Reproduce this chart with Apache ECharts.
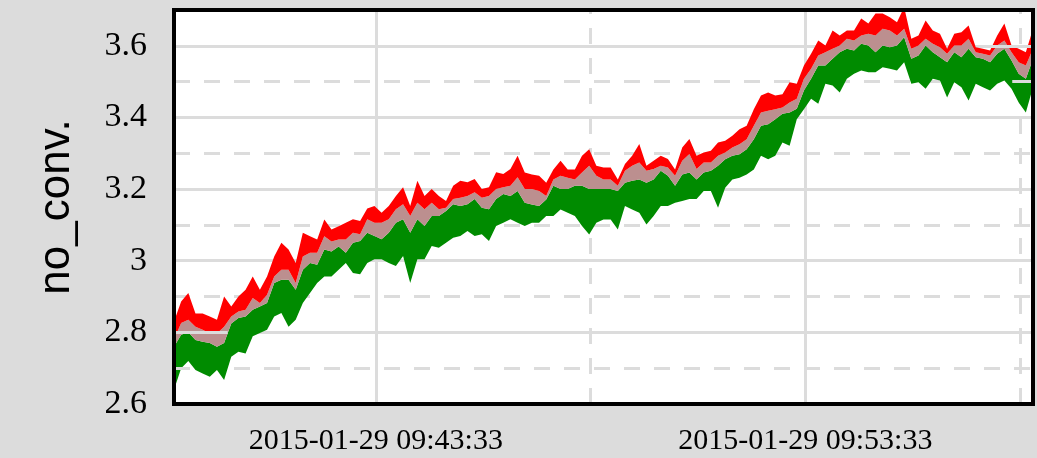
<!DOCTYPE html>
<html>
<head>
<meta charset="utf-8">
<script src="https://cdn.jsdelivr.net/npm/echarts@6/dist/echarts.min.js"></script>
<style>
html,body{margin:0;padding:0;background:#dcdcdc;}
#chart{width:1037px;height:458px;}
</style>
</head>
<body>
<div id="chart"></div>
<script>
// ---- data (seconds relative to 2015-01-29 09:43:33) ----
const tStart = -282;
const tStep = 10;
const minV = [2.64,2.70,2.72,2.695,2.685,2.676,2.695,2.667,2.732,2.746,
2.741,2.789,2.798,2.807,2.844,2.854,2.816,2.835,2.882,2.91,
2.938,2.956,2.956,2.975,2.994,2.966,2.962,2.994,3.004,3.004,
2.994,2.985,3.013,2.938,3.004,3.004,3.041,3.036,3.05,3.064,
3.069,3.083,3.069,3.074,3.055,3.097,3.106,3.116,3.106,3.097,
3.106,3.106,3.125,3.125,3.143,3.134,3.125,3.097,3.073,3.106,
3.115,3.115,3.087,3.153,3.143,3.134,3.101,3.125,3.153,3.153,
3.162,3.167,3.172,3.172,3.195,3.195,3.148,3.204,3.227,3.232,
3.241,3.255,3.293,3.283,3.293,3.33,3.321,3.395,3.423,3.452,
3.438,3.494,3.489,3.47,3.508,3.522,3.531,3.526,3.526,3.54,
3.536,3.531,3.554,3.494,3.498,3.48,3.508,3.503,3.456,3.498,
3.484,3.447,3.494,3.484,3.475,3.494,3.503,3.48,3.442,3.414,
3.484];
const midV = [2.76,2.793,2.80,2.779,2.774,2.77,2.76,2.77,2.825,2.84,
2.844,2.863,2.872,2.882,2.938,2.947,2.947,2.919,2.975,2.994,
2.989,3.031,3.026,3.04,3.022,3.05,3.055,3.078,3.069,3.06,
3.078,3.106,3.116,3.078,3.116,3.097,3.125,3.125,3.139,3.158,
3.153,3.158,3.172,3.148,3.144,3.172,3.186,3.181,3.195,3.162,
3.157,3.153,3.171,3.209,3.20,3.20,3.209,3.209,3.20,3.20,
3.20,3.20,3.195,3.218,3.223,3.227,3.218,3.227,3.251,3.237,
3.209,3.241,3.246,3.227,3.246,3.251,3.265,3.283,3.293,3.297,
3.311,3.339,3.377,3.381,3.395,3.41,3.414,3.424,3.475,3.508,
3.545,3.545,3.564,3.582,3.592,3.587,3.606,3.601,3.582,3.601,
3.596,3.601,3.624,3.564,3.573,3.601,3.582,3.568,3.554,3.582,
3.568,3.592,3.568,3.564,3.554,3.578,3.592,3.559,3.522,3.508,
3.564];
const upV = [2.78,2.826,2.835,2.816,2.807,2.797,2.797,2.816,2.844,2.858,
2.863,2.896,2.882,2.905,2.956,2.975,2.975,2.938,3.012,3.022,
3.022,3.068,3.054,3.059,3.059,3.078,3.074,3.116,3.106,3.106,
3.116,3.144,3.158,3.125,3.162,3.144,3.162,3.144,3.148,3.172,
3.176,3.181,3.191,3.176,3.181,3.20,3.205,3.209,3.233,3.20,
3.20,3.195,3.181,3.227,3.237,3.232,3.227,3.246,3.265,3.237,
3.227,3.227,3.209,3.251,3.265,3.274,3.251,3.256,3.265,3.26,
3.237,3.279,3.298,3.256,3.274,3.274,3.293,3.302,3.316,3.325,
3.339,3.377,3.414,3.419,3.423,3.428,3.442,3.452,3.508,3.536,
3.573,3.582,3.592,3.601,3.62,3.615,3.629,3.634,3.629,3.648,
3.643,3.629,3.648,3.592,3.601,3.62,3.606,3.596,3.578,3.601,
3.601,3.62,3.582,3.578,3.573,3.601,3.615,3.582,3.554,3.545,
3.592];
const maxV = [2.83,2.886,2.91,2.853,2.853,2.844,2.835,2.90,2.872,2.90,
2.919,2.956,2.919,2.956,3.012,3.05,3.031,2.994,3.078,3.068,
3.059,3.115,3.087,3.096,3.106,3.116,3.111,3.146,3.153,3.134,
3.153,3.181,3.205,3.153,3.223,3.181,3.20,3.181,3.167,3.209,
3.223,3.219,3.228,3.20,3.205,3.247,3.242,3.256,3.293,3.246,
3.241,3.237,3.218,3.255,3.279,3.255,3.255,3.293,3.311,3.265,
3.26,3.26,3.227,3.27,3.293,3.326,3.265,3.279,3.293,3.284,
3.255,3.316,3.34,3.293,3.302,3.307,3.33,3.335,3.349,3.367,
3.377,3.423,3.461,3.47,3.461,3.465,3.498,3.494,3.545,3.578,
3.615,3.601,3.643,3.629,3.643,3.643,3.676,3.662,3.69,3.69,
3.68,3.666,3.708,3.62,3.629,3.671,3.643,3.634,3.592,3.634,
3.638,3.657,3.596,3.592,3.587,3.629,3.662,3.601,3.592,3.582,
3.648];
const xTickValues = [0, 600];
const xTickLabels = ['2015-01-29 09:43:33', '2015-01-29 09:53:33'];
const yTickValues = [2.6, 2.8, 3.0, 3.2, 3.4, 3.6];
const yTickLabels = ['2.6', '2.8', '3', '3.2', '3.4', '3.6'];
const yMajorGrid = [2.8, 3.0, 3.2, 3.4, 3.6];
const yMinorGrid = [2.7, 2.9, 3.1, 3.3, 3.5];
const xMajorGrid = [0, 600];
const xMinorGrid = [300, 900];

// ---- build ----
const times = minV.map((_, i) => tStart + i * tStep);
const xMin = times[0], xMax = times[times.length - 1];
// rows are [y, x] so that stacking happens on the y dimension
const rows = arr => arr.map((v, i) => [+v.toFixed(4), times[i]]);
const base = rows(minV);
const dGreen = rows(midV.map((v, i) => v - minV[i]));
const dRosy = rows(upV.map((v, i) => v - midV[i]));
const dRed = rows(maxV.map((v, i) => v - upV[i]));

const GRIDC = '#dcdcdc';
const DASH = [16, 14];
const gridLines = [];
yMajorGrid.forEach(v => gridLines.push({yAxis: v, lineStyle: {type: 'solid'}}));
yMinorGrid.forEach(v => gridLines.push({yAxis: v, lineStyle: {type: DASH}}));
xMajorGrid.forEach(v => gridLines.push({xAxis: v, lineStyle: {type: 'solid'}}));
xMinorGrid.forEach(v => gridLines.push({xAxis: v, lineStyle: {type: DASH}}));

const G = {left: 174, top: 10, right: 4, bottom: 54};

function areaSeries(name, data, color, z, extra) {
  const s = {
    name, type: 'line', stack: 'band', data, z,
    encode: {x: 1, y: 0},
    showSymbol: false, symbol: 'none', silent: true,
    lineStyle: {width: 0, opacity: 0},
    emphasis: {disabled: true}
  };
  if (color) s.areaStyle = {color, opacity: 1};
  return Object.assign(s, extra || {});
}

const chart = echarts.init(document.getElementById('chart'), null, {renderer: 'canvas'});
const W = chart.getWidth(), H = chart.getHeight();
chart.setOption({
  backgroundColor: '#dcdcdc',
  animation: false,
  grid: {left: G.left, top: G.top, right: G.right, bottom: G.bottom, show: true,
         backgroundColor: '#ffffff', borderWidth: 0},
  xAxis: {
    type: 'value', min: xMin, max: xMax,
    axisLine: {show: false}, axisTick: {show: false}, splitLine: {show: false},
    axisLabel: {
      customValues: xTickValues,
      formatter: v => { const k = xTickValues.indexOf(v); return k >= 0 ? xTickLabels[k] : ''; },
      fontFamily: 'Liberation Serif', fontSize: 30, color: '#000', margin: 22
    }
  },
  yAxis: {
    type: 'value', min: 2.6, max: 3.7, interval: 0.2,
    axisLine: {show: false}, axisTick: {show: false}, splitLine: {show: false},
    axisLabel: {
      customValues: yTickValues,
      formatter: v => { const k = yTickValues.findIndex(t => Math.abs(t - v) < 1e-6); return k >= 0 ? yTickLabels[k] : ''; },
      fontFamily: 'Liberation Serif', fontSize: 34, color: '#000', margin: 27
    },
    name: 'no_conv.', nameLocation: 'middle', nameRotate: 90, nameGap: 95,
    nameTextStyle: {fontFamily: 'Liberation Sans', fontSize: 44, color: '#000'}
  },
  series: [
    areaSeries('base', base, null, 1, {
      markLine: {silent: true, symbol: 'none', z: 1, animation: false,
        label: {show: false},
        lineStyle: {color: GRIDC, width: 3},
        emphasis: {disabled: true},
        data: gridLines}
    }),
    areaSeries('min-mid', dGreen, '#008b00', 3),
    areaSeries('mid-up', dRosy, '#bc8f8f', 3),
    areaSeries('up-max', dRed, '#ff0000', 3, {
      markLine: {silent: true, symbol: 'none', z: 10, animation: false,
        label: {show: false},
        lineStyle: {color: GRIDC, width: 3},
        emphasis: {disabled: true},
        data: [
          [{coord: [xMin, 2.8], lineStyle: {type: 'solid'}}, {coord: [-207, 2.8]}],
          [{coord: [xMin, 2.7], lineStyle: {type: DASH}}, {coord: [-256, 2.7]}],
          [{coord: [845, 3.6], lineStyle: {type: 'solid'}}, {coord: [xMax, 3.6]}],
          [{coord: [889, 3.5], lineStyle: {type: 'solid'}}, {coord: [xMax, 3.5]}]
        ]}
    })
  ],
  graphic: [{
    type: 'rect', z: 100, silent: true,
    shape: {x: G.left, y: G.top, width: W - G.left - G.right, height: H - G.top - G.bottom},
    style: {fill: null, stroke: '#000', lineWidth: 4}
  }]
});
</script>
</body>
</html>
